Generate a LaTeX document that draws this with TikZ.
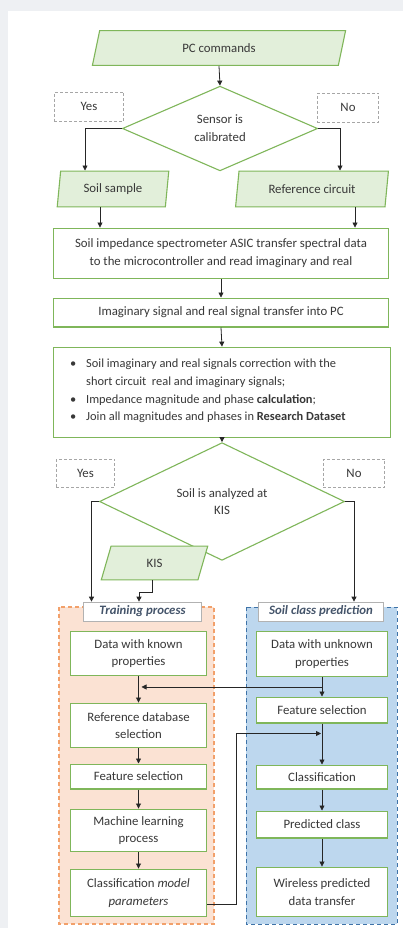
\documentclass[tikz,border=0pt]{standalone}
\usepackage{fontspec}
\setmainfont{Carlito}
\usetikzlibrary{shapes.geometric,arrows.meta,calc}
\definecolor{gborder}{HTML}{7FB65A}
\definecolor{gfill}{HTML}{E2EFDA}
\definecolor{bggray}{HTML}{EEF0F3}
\definecolor{txtc}{HTML}{383838}
\definecolor{ynbord}{HTML}{A6A6A6}
\definecolor{orfill}{HTML}{FBE2D3}
\definecolor{orbord}{HTML}{F2A06A}
\definecolor{blfill}{HTML}{BDD7EE}
\definecolor{blbord}{HTML}{3E73A8}
\definecolor{lblc}{HTML}{44546A}
\newcommand{\dfont}{\fontsize{12.8bp}{17.8bp}\selectfont}
\begin{document}
\begin{tikzpicture}[x=1bp,y=-1bp,
  every node/.style={font=\dfont, text=txtc, inner sep=0pt},
  para/.style={trapezium, trapezium stretches=true, draw=gborder, fill=gfill, line width=1.1bp},
  dia/.style={diamond, draw=gborder, fill=white, line width=1.1bp, align=center},
  box/.style={rectangle, draw=gborder, fill=white, line width=1.1bp, align=center},
  yn/.style={rectangle, draw=ynbord, line width=0.8bp, dash pattern=on 3bp off 2bp},
  lbl/.style={rectangle, draw=black!30, fill=white, line width=0.8bp, font=\dfont\bfseries\itshape, text=lblc},
  arr/.style={-{Triangle[width=5bp,length=5bp]}, line width=0.8bp, draw=black!85},
  ln/.style={line width=0.8bp, draw=black!85}]
\useasboundingbox (0,0) rectangle (403,928);
\fill[bggray] (0,0) rectangle (403,928);
\fill[white] (8,11) rectangle (403,928);

% regions
\draw[fill=orfill, draw=orbord, line width=1.2bp, dash pattern=on 4bp off 3bp] (59,607) rectangle (214,924);
\draw[fill=blfill, draw=blbord, line width=1bp, dash pattern=on 4bp off 3bp] (246,607) rectangle (397,924);

% top part
\node[para, trapezium left angle=76, trapezium right angle=104, minimum width=256, minimum height=35] (pc) at (219,48) {PC commands};
\node[dia, minimum width=196, minimum height=85] (d1) at (220,128.5) {\fontsize{12.8bp}{16bp}\selectfont Sensor is\\calibrated};
\node[yn, minimum width=70, minimum height=29] (yes1) at (89,106.5) {Yes};
\node[yn, minimum width=62, minimum height=29] (no1) at (348,107.5) {No};
\node[para, trapezium left angle=80, trapezium right angle=100, minimum width=112, minimum height=36] (soil) at (113,189) {Soil sample};
\node[para, trapezium left angle=77, trapezium right angle=103, minimum width=154, minimum height=36] (ref) at (312,189) {Reference circuit};
\node[box, minimum width=336, minimum height=51] (b1) at (221,253.5) {Soil impedance spectrometer ASIC transfer spectral data\\to the microcontroller and read imaginary and real};
\node[box, minimum width=336, minimum height=29] (b2) at (221,312.5) {Imaginary signal and real signal transfer into PC};
\node[box, minimum width=338, minimum height=91] (b3) at (222,392.5) {};
\node[anchor=west, align=left, font=\fontsize{12.4bp}{17.7bp}\selectfont] (b3t) at (70,391) {%
\makebox[16bp][l]{\textbullet}Soil imaginary and real signals correction with the\\
\hspace*{16bp}short circuit\ \ real and imaginary signals;\\
\makebox[16bp][l]{\textbullet}Impedance magnitude and phase \textbf{calculation};\\
\makebox[16bp][l]{\textbullet}Join all magnitudes and phases in \textbf{Research Dataset}};
\node[dia, minimum width=246, minimum height=83] (d2) at (222,501.5) {\fontsize{12.8bp}{17bp}\selectfont Soil is analyzed at\\KIS};
\node[yn, minimum width=59, minimum height=28] (yes2) at (85.5,473) {Yes};
\node[yn, minimum width=62, minimum height=28] (no2) at (354,473) {No};
\node[para, trapezium left angle=78, trapezium right angle=102, minimum width=107, minimum height=34] (kis) at (154.5,563) {KIS};

% labels
\node[lbl, minimum width=119, minimum height=19] (trl) at (142.5,611.5) {Training process};
\node[lbl, minimum width=126, minimum height=19] (scl) at (321,611.5) {Soil class prediction};

% left column
\node[box, minimum width=137, minimum height=45] (known) at (138.5,653.5) {Data with known\\properties};
\node[box, minimum width=137, minimum height=45] (refdb) at (138.5,725.5) {Reference database\\selection};
\node[box, minimum width=137, minimum height=25] (fsel) at (138.5,776.5) {Feature selection};
\node[box, minimum width=137, minimum height=43] (ml) at (138.5,830.5) {Machine learning\\process};
\node[box, minimum width=137, minimum height=48] (cmp) at (138.5,893) {Classification \textit{model}\\\textit{parameters}};

% right column
\node[box, minimum width=132, minimum height=46] (unk) at (322,654) {Data with unknown\\properties};
\node[box, minimum width=132, minimum height=26] (fsel2) at (322,710) {Feature selection};
\node[box, minimum width=132, minimum height=24] (cls) at (322,777) {Classification};
\node[box, minimum width=132, minimum height=27] (pred) at (322,824.5) {Predicted class};
\node[box, minimum width=132, minimum height=50] (wire) at (322,892) {Wireless predicted\\data transfer};

% connectors top
\draw[arr] (pc.south) -- (d1.north);
\draw[arr] (d1.west) -| ([xshift=-28bp]soil.north);
\draw[arr] (d1.east) -| ([xshift=28bp]ref.north);
\draw[arr] ([xshift=-13bp]soil.south) -- ([xshift=-13bp]soil.south |- b1.north);
\draw[arr] ([xshift=43bp]ref.south) -- ([xshift=43bp]ref.south |- b1.north);
\draw[arr] (b1.south) -- (b2.north);
\draw[arr] (b2.south) -- (b3.north);
\draw[arr] (b3.south) -- (d2.north);
\draw[arr] (d2.west) -| ([xshift=-51bp]trl.north);
\draw[arr] (d2.east) -| ([xshift=33bp]scl.north);
\draw[arr] ([xshift=-2bp]kis.south) -- ++(0,12) -| ([xshift=-3.5bp]trl.north);

% left column connectors
\draw[arr] (known.south) -- (refdb.north);
\draw[arr] (refdb.south) -- (fsel.north);
\draw[arr] (fsel.south) -- (ml.north);
\draw[arr] (ml.south) -- (cmp.north);

% right column connectors
\coordinate (j1) at ($(unk.south)!0.5!(fsel2.north)$);
\draw[arr] (unk.south) -- (fsel2.north);
\draw[arr] (j1) -- ([xshift=3bp]j1 -| known.south);
\coordinate (j2) at ($(fsel2.south)+(0,10)$);
\draw[arr] (fsel2.south) -- (cls.north);
\draw[arr] ([yshift=-11bp]cmp.east) -- ++(29,0) |- ([xshift=-1bp]j2);
\draw[arr] (cls.south) -- (pred.north);
\draw[arr] (pred.south) -- (wire.north);
\end{tikzpicture}
\end{document}
